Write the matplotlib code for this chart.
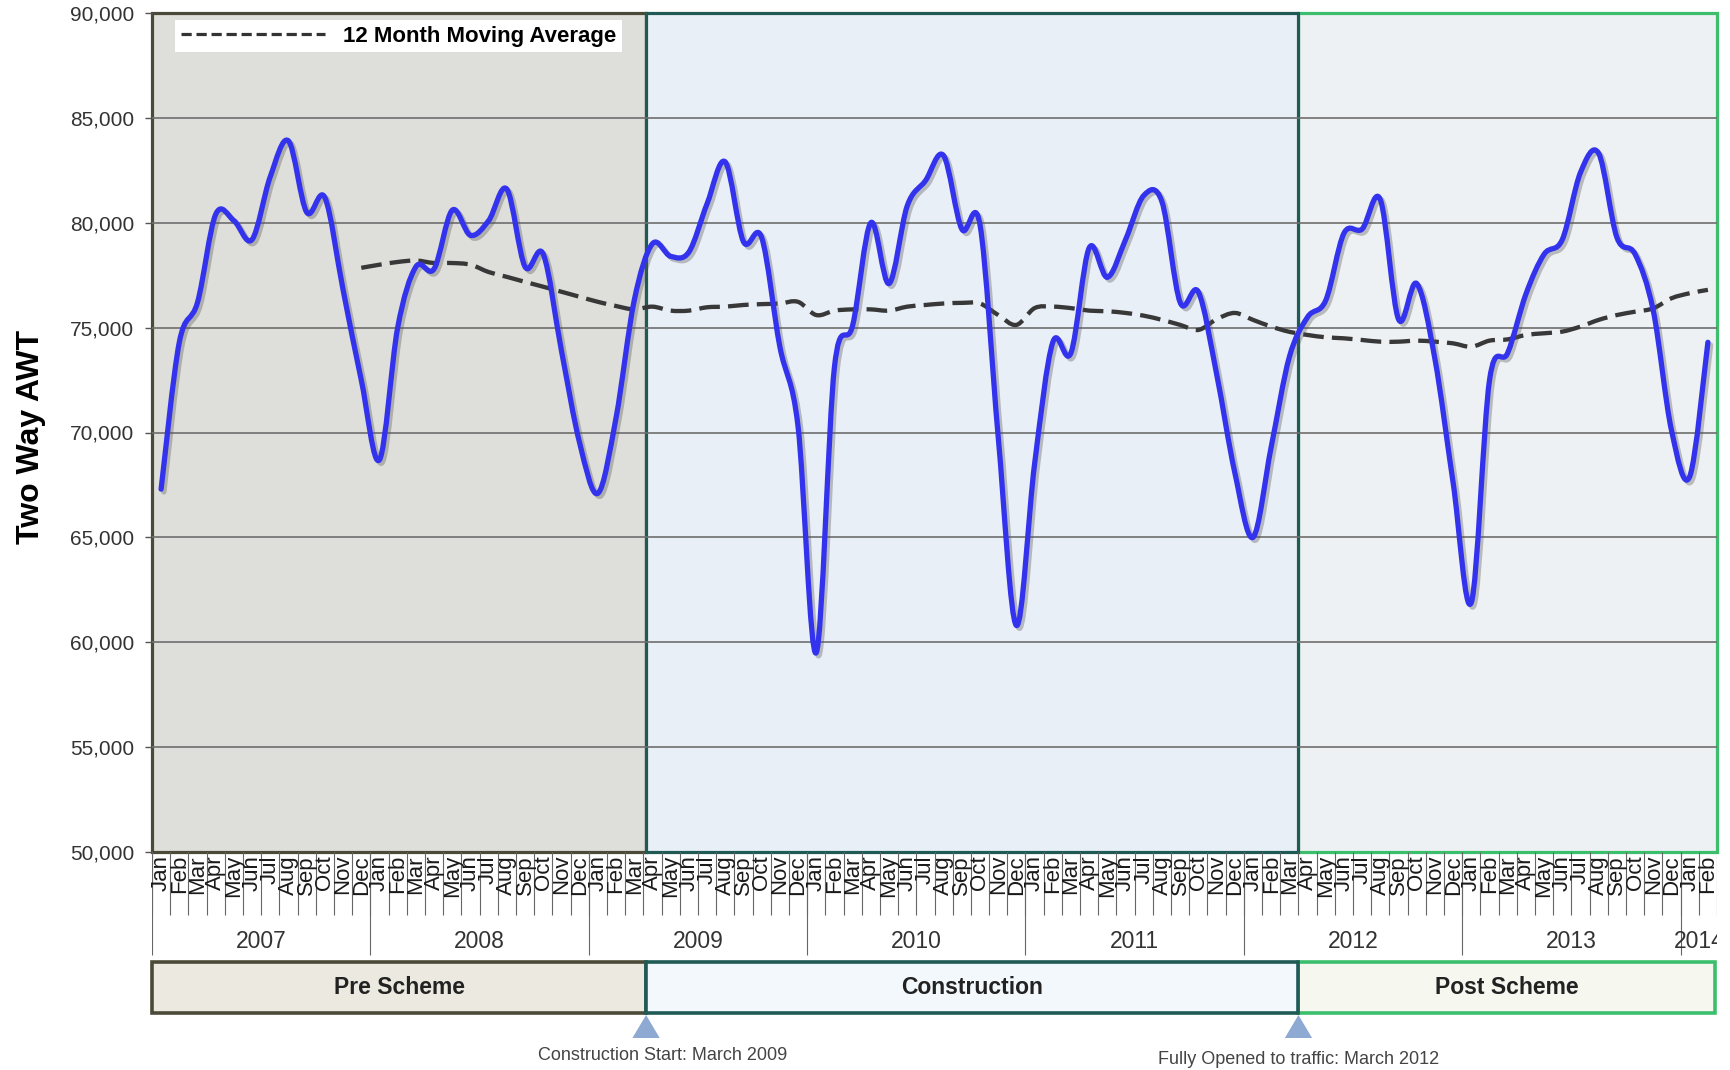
import numpy as np
import matplotlib
matplotlib.use("Agg")
import matplotlib.pyplot as plt
import matplotlib.transforms as mtransforms
import matplotlib.patheffects as pe
from matplotlib.path import Path
from matplotlib.patches import PathPatch, Rectangle, Polygon
from matplotlib.lines import Line2D

plt.rcParams['font.family'] = ['Liberation Sans', 'DejaVu Sans']

# --- data ---
months = ['Jan', 'Feb', 'Mar', 'Apr', 'May', 'Jun', 'Jul', 'Aug', 'Sep', 'Oct', 'Nov', 'Dec']
first_year = 2007

# two way AWT, Jan 2007 .. Feb 2014
awt = [67300, 74300, 76200, 80400, 80100, 79200, 82200, 83900, 80500, 81200, 76800, 72500,
       68700, 75000, 77900, 77800, 80600, 79400, 80100, 81600, 77900, 78500, 73900, 69500,
       67100, 70700, 76300, 79000, 78400, 78600, 80900, 82900, 79100, 79300, 74100, 70300,
       59500, 73100, 75100, 80000, 77100, 80800, 82000, 83200, 79700, 79900, 69800, 60800,
       68500, 74300, 73800, 78800, 77400, 79200, 81300, 81000, 76200, 76700, 72800, 68100,
       65000, 69300, 73600, 75500, 76300, 79500, 79700, 81100, 75400, 77100, 73500, 67600,
       61900, 72500, 73800, 76600, 78500, 79200, 82400, 83300, 79300, 78500, 75800, 70100,
       67900, 74300]

# 12 month moving average, Dec 2007 .. Feb 2014
ma_start = 11
moving_avg = [77850, 78000, 78130, 78200, 78080, 78080, 78000, 77650, 77420, 77180, 76950, 76710,
              76470, 76230, 76030, 75870,
              76000, 75810, 75810, 75970, 76000, 76080, 76120, 76150, 76230, 75600, 75810, 75870,
              75870, 75810, 76000, 76080, 76150, 76180,
              76150, 75600, 75130, 75930, 76000, 75930, 75810, 75780, 75700, 75570, 75370, 75130,
              74890, 75400, 75700, 75370, 75050, 74800, 74650,
              74540, 74490, 74410, 74330, 74330, 74380, 74330, 74250, 74090, 74380, 74440, 74650,
              74730, 74810, 75050, 75370, 75600, 75760, 75920, 76400, 76640, 76800]

phases = ['Pre Scheme', 'Construction', 'Post Scheme']
phase_first_month = [0, 27, 63]   # Jan 2007, Apr 2009, Apr 2012
events = ['Construction Start: March 2009', 'Fully Opened to traffic: March 2012']

n = len(awt)
x = np.arange(n)
month_lab = [months[k % 12] for k in range(n)]
year_of = [first_year + k // 12 for k in range(n)]
edges = [p - 0.5 for p in phase_first_month] + [n - 0.5]
edges[1] += 0.15  # the drawn boundary sits a little past the month edge

fill_main = ['#dedfda', '#e9eff7', '#eef1f3']
edge_col = ['#4b4a38', '#1f5a55', '#3cbf6c']
fill_box = ['#ebe9e0', '#f3f8fc', '#f6f7ef']
zord = [1.0, 1.2, 1.1]


def smooth_path(xs, ys):
    # excel-like smoothed line (cubic bezier through the points)
    pts = np.column_stack([xs, ys]).astype(float)
    verts = [pts[0]]
    codes = [Path.MOVETO]
    for k in range(len(pts) - 1):
        p0 = pts[k - 1] if k > 0 else pts[k]
        p1, p2 = pts[k], pts[k + 1]
        p3 = pts[k + 2] if k + 2 < len(pts) else pts[k + 1]
        verts += [p1 + (p2 - p0) / 6, p2 - (p3 - p1) / 6, p2]
        codes += [Path.CURVE4] * 3
    return Path(verts, codes)


W, H = 1730, 1070
L, R, T, B = 152, 1717, 13, 852
fig = plt.figure(figsize=(W / 100, H / 100), dpi=100)
ax = fig.add_axes([L / W, 1 - B / H, (R - L) / W, (B - T) / H])
ax.set_xlim(-0.5, n - 0.5)
ax.set_ylim(50000, 90000)

trans = mtransforms.blended_transform_factory(ax.transData, ax.transAxes)
for i in range(3):
    ax.add_patch(Rectangle((edges[i], 0), edges[i + 1] - edges[i], 1, transform=trans,
                           facecolor=fill_main[i], edgecolor=edge_col[i], lw=2.3,
                           clip_on=False, zorder=zord[i]))

for v in range(55000, 90000, 5000):
    ax.axhline(v, color='#6e6e6e', lw=1.2, zorder=2)

blue = PathPatch(smooth_path(x, awt), fill=False, edgecolor='#3333ee', lw=3.8, zorder=5,
                 capstyle='round', joinstyle='round',
                 path_effects=[pe.SimpleLineShadow(offset=(2, -2), shadow_color='#555', alpha=0.35),
                               pe.Normal()])
ax.add_patch(blue)
ma_x = np.arange(ma_start, ma_start + len(moving_avg))
ax.add_patch(PathPatch(smooth_path(ma_x, moving_avg), fill=False, edgecolor='#383838', lw=3.1,
                       linestyle=(0, (4.8, 1.9)), zorder=4))

ax.set_xticks([])
yt = list(range(50000, 90001, 5000))
ax.set_yticks(yt)
ax.set_yticklabels([f'{v:,}' for v in yt])
ax.tick_params(axis='y', length=5, width=1, color='#555', pad=8, labelsize=15, labelcolor='#333')
for s in ax.spines.values():
    s.set_visible(False)

fig.text(31 / W, 1 - 437 / H, 'Two Way AWT', rotation=90, fontsize=23, fontweight='bold',
         ha='center', va='center')

proxy = Line2D([], [], color='#333333', lw=2.3, dashes=(3.2, 1.5))
leg = ax.legend([proxy], ['12 Month Moving Average'], loc='upper left',
                bbox_to_anchor=(0.0147, 0.9917), borderaxespad=0, borderpad=0.25,
                handlelength=6.5, handletextpad=0.8, fancybox=False, framealpha=1,
                prop={'size': 16, 'weight': 'bold'})
leg.get_frame().set_edgecolor('none')
leg.set_zorder(6)

# category axis area below the plot (y in pixels below the plot)
axb = fig.add_axes([L / W, 0, (R - L) / W, (H - B) / H])
axb.set_xlim(-0.5, n - 0.5)
axb.set_ylim(H - B, 0)
axb.axis('off')

for i in range(n):
    axb.text(x[i], 3, month_lab[i], rotation=90, ha='center', va='top', fontsize=16, color='#1a1a1a')
axb.vlines(np.arange(-0.5, n), 0, 63, color='#666', lw=0.8)
year_starts = [k for k in range(n) if k % 12 == 0]
axb.vlines(np.array(year_starts) - 0.5, 0, 103, color='#666', lw=0.8)
for yr in sorted(set(year_of)):
    idx = [k for k in range(n) if year_of[k] == yr]
    axb.text(np.mean(idx), 90, str(yr), ha='center', va='center', fontsize=16.5, color='#333',
             clip_on=True)

for i in range(3):
    x1 = edges[i + 1] if i < 2 else edges[i + 1] - 0.1
    axb.add_patch(Rectangle((edges[i], 110), x1 - edges[i], 51, facecolor=fill_box[i],
                            edgecolor=edge_col[i], lw=2.6, clip_on=False, zorder=zord[i]))
    axb.text((edges[i] + x1) / 2, 136, phases[i], ha='center', va='center', fontsize=16.5,
             fontweight='bold', color='#222', zorder=3)

for j, ev in enumerate(events):
    xe = edges[j + 1]
    axb.add_patch(Polygon([(xe - 0.75, 186), (xe + 0.75, 186), (xe, 163)], closed=True,
                          facecolor='#8eaad2', edgecolor='none', clip_on=False))
    axb.text(xe + (0.9 if j == 0 else 0.0), 204 + 3 * j, ev, ha='center', va='center',
             fontsize=13, color='#444')

fig.savefig('out.png', dpi=100, facecolor='white')
